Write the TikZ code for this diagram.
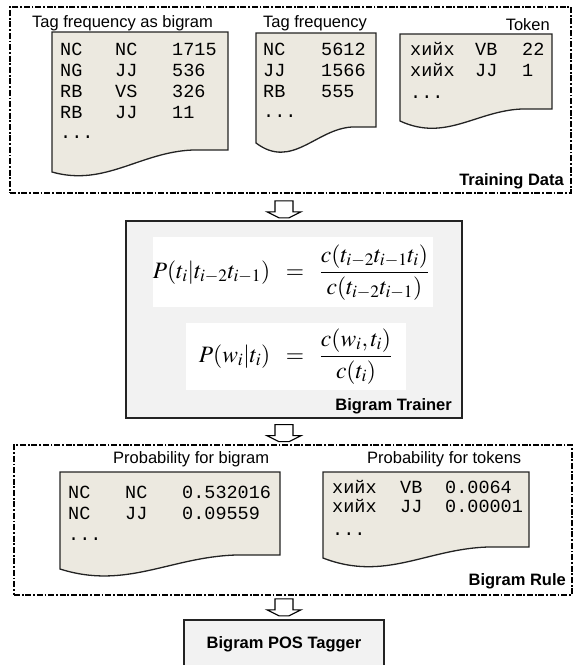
\documentclass[tikz,border=0pt]{standalone}
\usepackage{mathptmx}
\usepackage[no-math]{fontspec}
\setmainfont{Liberation Sans}
\setmonofont{Liberation Mono}
\usetikzlibrary{calc}
\definecolor{docfill}{RGB}{236,233,224}
\definecolor{boxfill}{RGB}{242,242,242}
\definecolor{edge}{RGB}{35,35,35}
\tikzset{
  docshape/.style={draw=edge, line width=1.3pt, fill=docfill},
  groupbox/.style={draw=black, line width=1.6pt, dash pattern=on 6pt off 1.8pt on 1.8pt off 1.8pt, inner sep=0pt},
  plainbox/.style={draw=edge, line width=1.3pt, fill=boxfill, inner sep=0pt},
  lbl/.style={font=\fontsize{16.5}{19}\selectfont, inner sep=0pt},
  blbl/.style={font=\fontsize{16.5}{19}\selectfont\bfseries, inner sep=0pt},
  mono/.style={font=\fontsize{18.5}{21}\selectfont\ttfamily, inner sep=0pt, anchor=base west},
  formbg/.style={fill=white, inner sep=0pt},
  formula/.style={font=\fontsize{23.5}{28}\selectfont, inner sep=0pt, anchor=base},
  blockarrow/.pic={\draw[line width=1.1pt, draw=black, fill=white] (-9,0) -- (-9,11) -- (-17,11) -- (-5,17) -- (5,17) -- (17,11) -- (9,11) -- (9,0) -- cycle;}
}
% document shape: xl, yt, xr, yrb, ylb, dip
\newcommand{\docpath}[6]{%
  \pgfmathsetmacro\dWid{#3-#1}%
  \draw[docshape] (#1,#2) -- (#3,#2) -- (#3,#4) -- ({#1+0.8*\dWid},#4)
    .. controls ({#1+0.5*\dWid},{#4+2}) and ({#1+0.3*\dWid},{#5+3*#6}) .. (#1,#5) -- cycle;}
\newcommand{\cell}[4]{\node[mono] (#1) at (#2,#3) {#4};}
\begin{document}
\begin{tikzpicture}[x=1pt,y=-1pt]
\useasboundingbox (0,0) rectangle (574,665);

% group boxes
\node[groupbox, minimum width=561pt, minimum height=186pt] (train) at (290.5,100) {};
\node[plainbox, minimum width=336pt, minimum height=197pt] (trainer) at (294,319.5) {};
\node[groupbox, minimum width=558pt, minimum height=150pt] (rule) at (293,520) {};
\node[plainbox, minimum width=200pt, minimum height=60pt] (tagger) at (284,650) {};

% block arrows between stages
\coordinate (a1) at ($(train.south -| tagger.north)+(0,7)$);
\coordinate (a2) at ($(trainer.south -| tagger.north)+(0,6)$);
\coordinate (a3) at ($(rule.south -| tagger.north)+(0,3)$);
\pic at (a1) {blockarrow};
\pic at (a2) {blockarrow};
\pic at (a3) {blockarrow};

% ---------- Training data ----------
\node[lbl, anchor=base west] (l1) at (32,27) {Tag frequency as bigram};
\node[lbl, anchor=base west] (l2) at (263,27) {Tag frequency};
\node[lbl, anchor=base east] (l3) at (550,30) {Token};
\node[blbl, anchor=base east] (ltrain) at (564,185) {Training Data};

\docpath{52}{32}{228}{150}{172}{5}
\docpath{256}{33}{376}{127}{143}{9}
\docpath{400}{34}{552}{109}{121}{7}

\cell{d1a1}{60}{55}{NC}  \cell{d1b1}{115}{55}{NC} \cell{d1c1}{172}{55}{1715}
\cell{d1a2}{60}{76}{NG}  \cell{d1b2}{115}{76}{JJ} \cell{d1c2}{172}{76}{536}
\cell{d1a3}{60}{97}{RB}  \cell{d1b3}{115}{97}{VS} \cell{d1c3}{172}{97}{326}
\cell{d1a4}{60}{118}{RB} \cell{d1b4}{115}{118}{JJ} \cell{d1c4}{172}{118}{11}
\cell{d1a5}{60}{138}{...}

\cell{d2a1}{263}{55}{NC} \cell{d2b1}{321}{55}{5612}
\cell{d2a2}{263}{76}{JJ} \cell{d2b2}{321}{76}{1566}
\cell{d2a3}{263}{97}{RB} \cell{d2b3}{321}{97}{555}
\cell{d2a4}{263}{117}{...}

\cell{d3a1}{410}{55}{хийх} \cell{d3b1}{475}{55}{VB} \cell{d3c1}{522}{55}{22}
\cell{d3a2}{410}{76}{хийх} \cell{d3b2}{475}{76}{JJ} \cell{d3c2}{522}{76}{1}
\cell{d3a3}{410}{98}{...}

% ---------- Bigram trainer ----------
\node[formbg, minimum width=280pt, minimum height=70pt] (f1bg) at (293,272) {};
\node[formbg, minimum width=220pt, minimum height=67pt] (f2bg) at (296,356.5) {};
\node[formula] (f1) at (295,278)
  {\llap{$\displaystyle P(t_i|t_{i-2}t_{i-1})\mkern12mu$}$=$\rlap{$\displaystyle\mkern12mu\frac{c(t_{i-2}t_{i-1}t_i)}{c(t_{i-2}t_{i-1})}$}};
\node[formula] (f2) at (295,362)
  {\llap{$\displaystyle P(w_i|t_i)\mkern12mu$}$=$\rlap{$\displaystyle\mkern12mu\frac{c(w_i,t_i)}{c(t_i)}$}};
\node[blbl, anchor=base east] (ltrainer) at (452,410) {Bigram Trainer};

% ---------- Bigram rule ----------
\node[lbl, anchor=base west] (l4) at (113,463) {Probability for bigram};
\node[lbl, anchor=base west] (l5) at (367,463) {Probability for tokens};
\node[blbl, anchor=base east] (lrule) at (566,585) {Bigram Rule};

\docpath{60}{472}{280}{555}{569}{7}
\docpath{323}{472}{529}{547}{558}{8}

\cell{d4a1}{68}{498}{NC} \cell{d4b1}{125}{498}{NC} \cell{d4c1}{182}{498}{0.532016}
\cell{d4a2}{68}{519}{NC} \cell{d4b2}{125}{519}{JJ} \cell{d4c2}{182}{519}{0.09559}
\cell{d4a3}{68}{540}{...}

\cell{d5a1}{332}{493}{хийх} \cell{d5b1}{400}{493}{VB} \cell{d5c1}{445}{493}{0.0064}
\cell{d5a2}{332}{512}{хийх} \cell{d5b2}{400}{512}{JJ} \cell{d5c2}{445}{512}{0.00001}
\cell{d5a3}{332}{535}{...}

% ---------- Tagger ----------
\node[blbl, anchor=base] (ltagger) at (284,648) {Bigram POS Tagger};
\end{tikzpicture}
\end{document}
